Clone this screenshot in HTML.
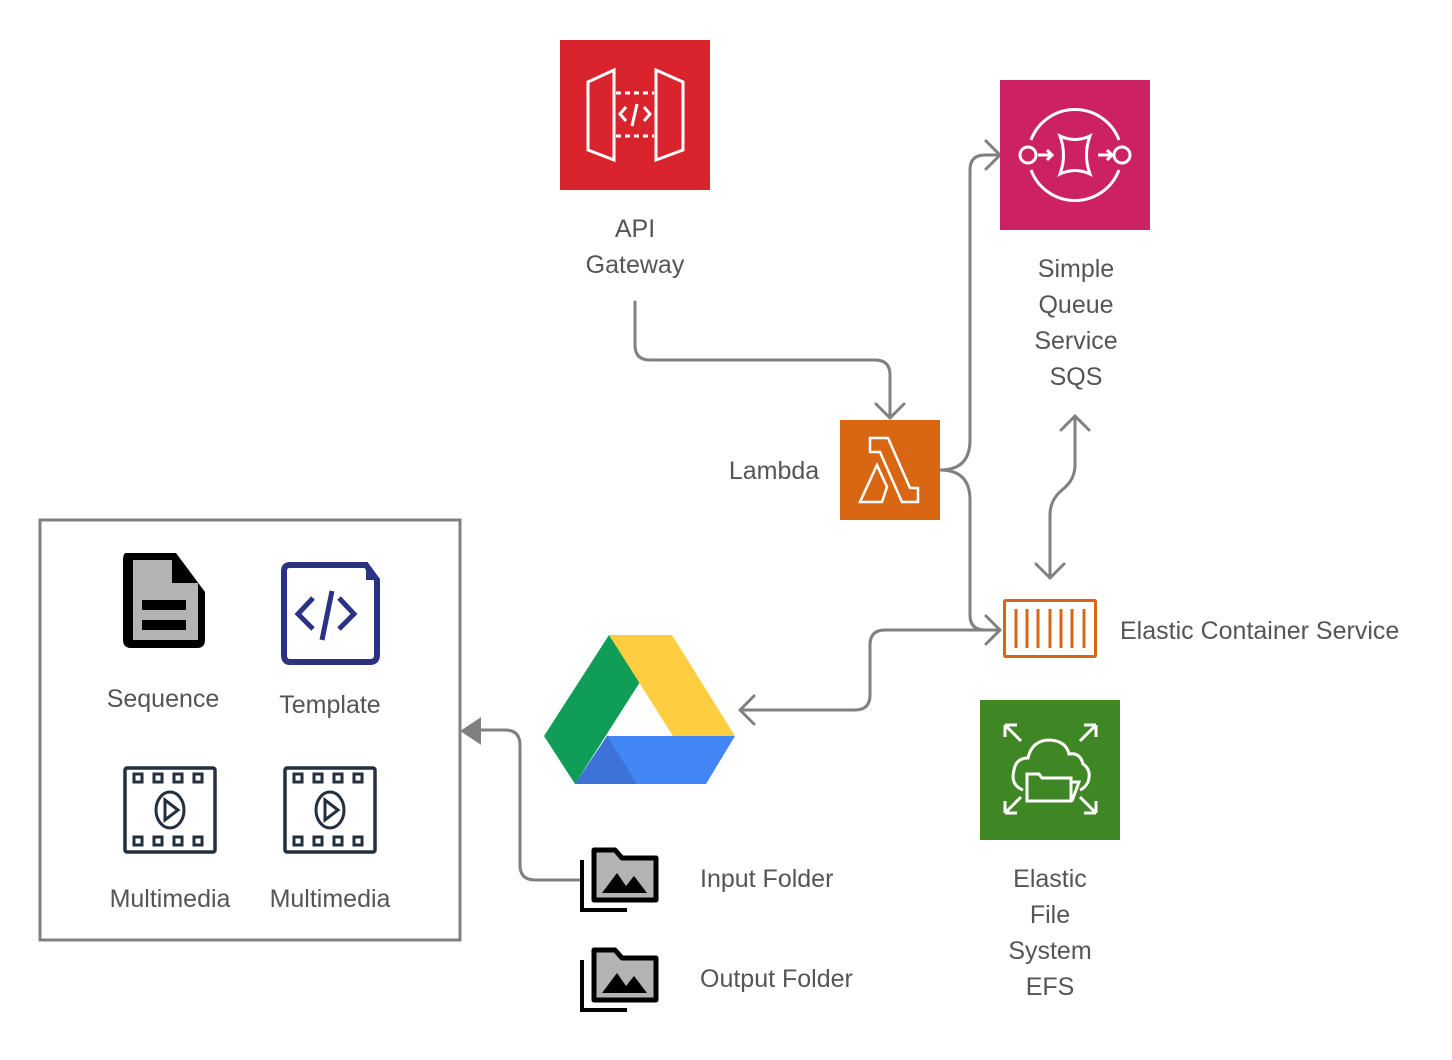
<!DOCTYPE html>
<html><head><style>
html,body{margin:0;padding:0;background:#fff;}
svg{display:block;}
text{font-family:"Liberation Sans",sans-serif;font-size:25px;fill:#555;}
</style></head><body>
<svg width="1452" height="1060" viewBox="0 0 1452 1060" xmlns="http://www.w3.org/2000/svg">
<!-- connectors -->
<g fill="none" stroke="#808080" stroke-width="3" stroke-linecap="round" stroke-linejoin="round">
<path d="M635,302 V345 Q635,360 650,360 H875 Q890,360 890,375 V418"/>
<path d="M876,404 L890,418 L904,404"/>
<path d="M940,470 Q970,470 970,440 V170 Q970,155 985,155 H1000"/>
<path d="M986,141 L1000,155 L986,169"/>
<path d="M940,470 Q970,470 970,500 V615 Q970,630 985,630 H1000"/>
<path d="M986,616 L1000,630 L986,644"/>
<path d="M1050,578 V515 Q1050,500 1062,490 Q1075,480 1075,465 V416"/>
<path d="M1036,564 L1050,578 L1064,564"/>
<path d="M1061,430 L1075,416 L1089,430"/>
<path d="M1000,630 H885 Q870,630 870,645 V695 Q870,710 855,710 H740"/>
<path d="M754,696 L740,710 L754,724"/>
<path d="M580,880 H535 Q520,880 520,865 V745 Q520,730 505,730 H478"/>
</g>
<path d="M462,731 L480,719 L480,743 Z" fill="#808080" stroke="#808080" stroke-width="2"/>

<!-- API Gateway -->
<rect x="560" y="40" width="150" height="150" fill="#D9232D"/>
<g fill="none" stroke="#fff" stroke-width="3">
<path d="M614,70 L588,82 V150 L614,160 Z"/>
<path d="M656,70 L683,82 V150 L656,160 Z"/>
<path d="M616,93 H654 M616,136 H654" stroke-dasharray="5,4"/>
<path d="M626,107 L620,114 L626,121 M644,107 L650,114 L644,121 M637,104 L632,126"/>
</g>
<text x="635" y="237" text-anchor="middle">API</text>
<text x="635" y="273" text-anchor="middle">Gateway</text>

<!-- SQS -->
<rect x="1000" y="80" width="150" height="150" fill="#CC2264"/>
<g fill="none" stroke="#fff" stroke-width="3">
<path d="M1031,140 A47,47 0 0 1 1119,140 M1031,170 A47,47 0 0 0 1119,170"/>
<circle cx="1028" cy="155" r="8"/><circle cx="1122" cy="155" r="8"/>
<path d="M1038,155 H1052 M1047,150 L1052,155 L1047,160 M1098,155 H1112 M1107,150 L1112,155 L1107,160"/>
<path d="M1060,136 Q1075,143 1090,136 Q1083,155 1090,174 Q1075,167 1060,174 Q1067,155 1060,136 Z"/>
</g>
<text x="1076" y="277" text-anchor="middle">Simple</text>
<text x="1076" y="313" text-anchor="middle">Queue</text>
<text x="1076" y="349" text-anchor="middle">Service</text>
<text x="1076" y="385" text-anchor="middle">SQS</text>

<!-- Lambda -->
<rect x="840" y="420" width="100" height="100" fill="#D86613"/>
<path d="M870,438 H888 L910,488 H918 V502 H902 L880,452 L870,452 Z M877,465 L887,487 L882,502 H860 Z" fill="none" stroke="#fff" stroke-width="2.5" stroke-linejoin="miter"/>
<text x="774" y="479" text-anchor="middle">Lambda</text>

<!-- ECS -->
<rect x="1004.5" y="600.5" width="91" height="56" fill="none" stroke="#D86613" stroke-width="3" rx="1"/>
<g stroke="#D86613" stroke-width="3">
<path d="M1016,609 V648 M1027,609 V648 M1038,609 V648 M1050,609 V648 M1061,609 V648 M1072,609 V648 M1084,609 V648"/>
</g>
<text x="1120" y="639">Elastic Container Service</text>

<!-- EFS -->
<rect x="980" y="700" width="140" height="140" fill="#3F8624"/>
<g fill="none" stroke="#fff" stroke-width="3">
<path d="M1005,725 L1021,741 M1005,725 V737 M1005,725 H1017"/>
<path d="M1096,725 L1080,741 M1096,725 V737 M1096,725 H1084"/>
<path d="M1005,813 L1021,797 M1005,813 V801 M1005,813 H1017"/>
<path d="M1096,813 L1080,797 M1096,813 V801 M1096,813 H1084"/>
<path d="M1023,790 Q1010,785 1014,770 Q1016,758 1028,758 Q1032,740 1050,740 Q1066,741 1069,754 Q1080,752 1083,764 Q1092,770 1088,782 Q1085,788 1080,790"/>
<path d="M1027,801 V774 H1039 L1042,778 H1071 V801 Z M1071,782 L1079,782 L1072,801"/>
</g>
<text x="1050" y="887" text-anchor="middle">Elastic</text>
<text x="1050" y="923" text-anchor="middle">File</text>
<text x="1050" y="959" text-anchor="middle">System</text>
<text x="1050" y="995" text-anchor="middle">EFS</text>

<!-- Google Drive -->
<polygon points="609,635 640,682 575,784 544,736" fill="#0F9D58"/>
<polygon points="609,635 672,635 735,736 673,736" fill="#FFCD40"/>
<polygon points="607,736 735,736 706,784 575,784" fill="#4285F4"/>
<polygon points="607,736 637,784 575,784" fill="#3D72D9"/>

<!-- Box -->
<rect x="40" y="520" width="420" height="420" fill="none" stroke="#808080" stroke-width="3"/>
<!-- Sequence icon -->
<path d="M126,553 H176 L205,592 V640 Q205,648 197,648 H131 Q123,648 123,640 V561 Q123,553 126,553 Z" fill="#000"/>
<path d="M133,560 H172 V583 H198 V640 H133 Z" fill="#b3b3b3"/>
<rect x="142" y="600" width="44" height="10" fill="#000"/>
<rect x="142" y="620" width="44" height="10" fill="#000"/>
<text x="163" y="707" text-anchor="middle">Sequence</text>
<!-- Template icon -->
<path d="M290,565 H366 L377,580 V655 Q377,662 370,662 H290 Q284,662 284,655 V571 Q284,565 290,565 Z" fill="none" stroke="#2B3284" stroke-width="6"/>
<path d="M366,562 L380,580 H366 Z" fill="#2B3284"/>
<g fill="none" stroke="#2B3284" stroke-width="5">
<path d="M313,598 L298,614 L313,629 M339,598 L354,614 L339,629 M332,591 L322,640"/>
</g>
<text x="330" y="713" text-anchor="middle">Template</text>
<!-- Multimedia icons -->
<g id="mm">
<rect x="125" y="768" width="90" height="84" rx="2" fill="none" stroke="#232F3E" stroke-width="3.5"/>
<g fill="none" stroke="#232F3E" stroke-width="3">
<rect x="134" y="774" width="8" height="8"/><rect x="154" y="774" width="8" height="8"/><rect x="174" y="774" width="8" height="8"/><rect x="194" y="774" width="8" height="8"/>
<rect x="134" y="837" width="8" height="8"/><rect x="154" y="837" width="8" height="8"/><rect x="174" y="837" width="8" height="8"/><rect x="194" y="837" width="8" height="8"/>
<ellipse cx="170" cy="810" rx="14" ry="18"/>
<path d="M165,800 L178,810 L165,820 Z"/>
</g>
</g>
<use href="#mm" x="160"/>
<text x="170" y="907" text-anchor="middle">Multimedia</text>
<text x="330" y="907" text-anchor="middle">Multimedia</text>

<!-- Folders -->
<g id="fd">
<path d="M582,860 V910 H627" fill="none" stroke="#000" stroke-width="4"/>
<path d="M594,850 H615 L622,858 H656 V900 H594 Z" fill="#b3b3b3" stroke="#000" stroke-width="5" stroke-linejoin="round"/>
<path d="M602,893 L617,873 L626,886 L634,876 L647,893 Z" fill="#000"/>
</g>
<use href="#fd" y="100"/>
<text x="700" y="887">Input Folder</text>
<text x="700" y="987">Output Folder</text>
</svg>
</body></html>
